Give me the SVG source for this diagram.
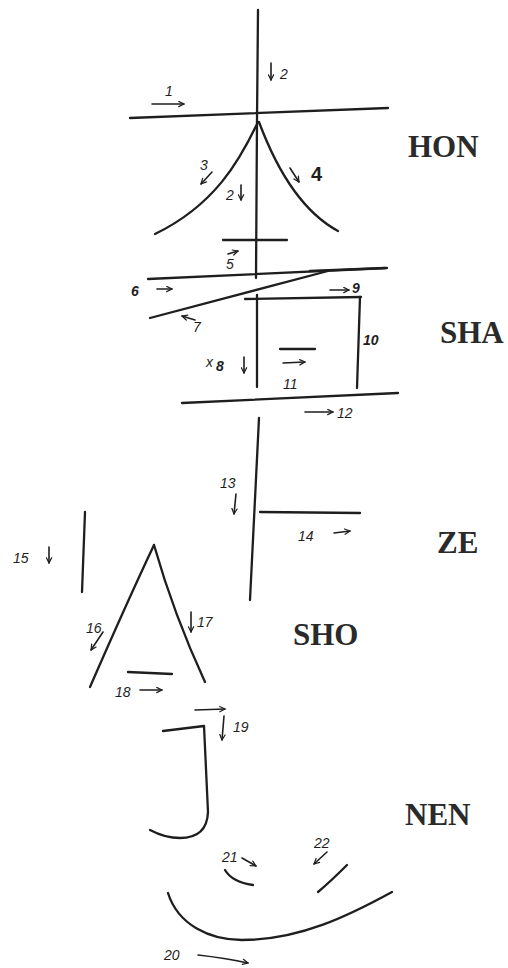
<svg xmlns="http://www.w3.org/2000/svg" width="508" height="968" viewBox="0 0 508 968">
<style>
.s{fill:none;stroke:#1e1e1e;stroke-width:2.3;stroke-linecap:round;stroke-linejoin:round}
.a{fill:none;stroke:#1e1e1e;stroke-width:1.6;stroke-linecap:round;marker-end:url(#ah)}
.n{font-family:"Liberation Sans","DejaVu Sans",sans-serif;font-style:italic;font-size:14px;fill:#1e1e1e}
.t{font-family:"Liberation Serif","Times New Roman",serif;font-weight:bold;font-size:31px;fill:#2a2a2a}
</style>
<defs>
<marker id="ah" viewBox="0 0 8 8" refX="7" refY="4" markerWidth="7" markerHeight="7" orient="auto" markerUnits="userSpaceOnUse">
<path d="M1,1 L7,4 L1,7" fill="none" stroke="#1e1e1e" stroke-width="1.4" stroke-linecap="round" stroke-linejoin="round"/>
</marker>
</defs>
<rect width="508" height="968" fill="#fff"/>

<g id="hon">
<path class="s" d="M130,118 L388,108"/>
<path class="s" d="M258,10 L257,120 L256,278"/>
<path class="s" d="M258,122 C240,160 215,205 155,234"/>
<path class="s" d="M259,122 Q290,205 338,231"/>
<text class="n" x="165" y="96">1</text>
<path class="a" d="M152,104 L184,104"/>
<path class="a" d="M271,63 L271,80"/>
<text class="n" x="280" y="79" font-size="16">2</text>
<text class="n" x="200" y="170">3</text>
<path class="a" d="M212,172 L201,184"/>
<path class="a" d="M290,168 L299,182"/>
<text x="311" y="181" font-family="Liberation Sans, sans-serif" font-weight="bold" font-size="20" fill="#1e1e1e">4</text>
<text class="n" x="226" y="200">2</text>
<path class="a" d="M241,185 L241,200"/>
<text class="t" x="408" y="157">HON</text>
</g>

<g id="sha">
<path class="s" d="M223,240 L287,240"/>
<text class="n" x="226" y="269">5</text>
<path class="a" d="M228,254 L238,251"/>
<path class="s" d="M148,279 L387,268"/>
<path class="s" d="M310,271 L385,268" stroke-width="3.5"/>
<text class="n" x="131" y="296" font-weight="bold">6</text>
<path class="a" d="M157,289 L172,289"/>
<path class="s" d="M328,271 L150,318"/>
<path class="a" d="M195,320 L182,316"/>
<text class="n" x="193" y="332" font-size="13">7</text>
<path class="s" d="M257,295 L257,387"/>
<path class="s" d="M245,299 L361,297"/>
<path class="a" d="M330,290 L349,290"/>
<text class="n" x="352" y="293" font-weight="bold" font-size="15">9</text>
<path class="s" d="M360,297 L357,388"/>
<text class="n" x="363" y="345" font-weight="bold" font-size="16">10</text>
<path class="s" d="M280,349 L315,349"/>
<path class="a" d="M283,363 L305,362"/>
<text class="n" x="283" y="389" font-size="13">11</text>
<text class="n" x="206" y="367" font-size="11">x</text>
<text class="n" x="216" y="371" font-weight="bold" font-size="22">8</text>
<path class="a" d="M244,357 L244,373"/>
<path class="s" d="M182,403 L398,393"/>
<path class="a" d="M305,412 L333,412"/>
<text class="n" x="337" y="418" font-size="15">12</text>
<text class="t" x="440" y="343">SHA</text>
</g>

<g id="ze">
<path class="s" d="M259,418 L250,600"/>
<text class="n" x="220" y="488">13</text>
<path class="a" d="M236,494 L234,514"/>
<path class="s" d="M260,512 L360,513"/>
<text class="n" x="298" y="541">14</text>
<path class="a" d="M334,533 L350,531"/>
<text class="t" x="437" y="553">ZE</text>
</g>

<g id="sho">
<path class="s" d="M85,512 L82,592" stroke-width="4.5"/>
<text class="n" x="13" y="563" font-size="15">15</text>
<path class="a" d="M49,547 L49,563"/>
<path class="s" d="M154,545 Q128,600 90,687"/>
<path class="s" d="M154,545 Q174,615 205,682"/>
<text class="n" x="86" y="633" font-size="11">16</text>
<path class="a" d="M103,632 L91,650"/>
<path class="a" d="M191,612 L191,632"/>
<text class="n" x="197" y="627">17</text>
<path class="s" d="M128,672 L172,674"/>
<text class="n" x="115" y="697">18</text>
<path class="a" d="M140,690 L162,690"/>
<text class="t" x="293" y="645">SHO</text>
</g>

<g id="nen">
<path class="a" d="M195,710 L225,709"/>
<path class="a" d="M224,716 L222,740"/>
<text class="n" x="233" y="732">19</text>
<path class="s" d="M163,731 L204,726 L208,812 Q207,838 180,838 Q165,838 150,830"/>
<text class="n" x="222" y="862" font-size="13">21</text>
<path class="a" d="M242,858 L256,866"/>
<path class="s" d="M225,870 Q232,882 253,885"/>
<text class="n" x="314" y="848" font-size="13">22</text>
<path class="a" d="M327,852 L314,864"/>
<path class="s" d="M347,865 Q330,882 318,892"/>
<path class="s" d="M168,893 C178,925 210,940 242,940 C300,940 350,915 392,892"/>
<text class="n" x="164" y="960">20</text>
<path class="a" d="M198,955 Q225,958 248,963"/>
<text class="t" x="405" y="825">NEN</text>
</g>
</svg>
